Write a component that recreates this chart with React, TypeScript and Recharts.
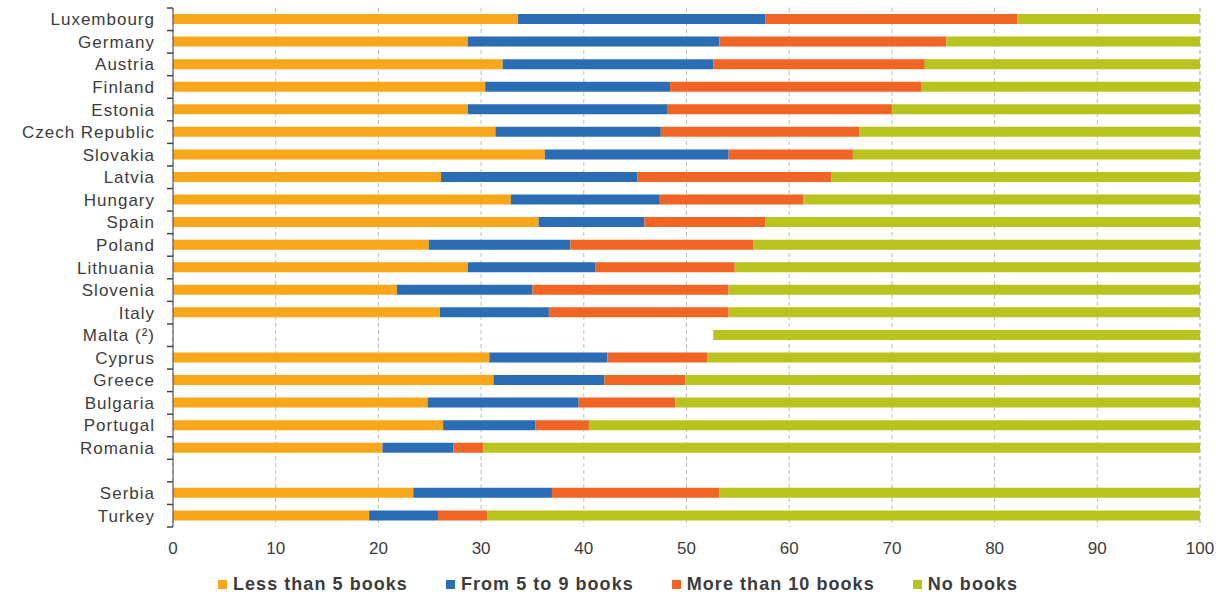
import { BarChart, Bar, XAxis, YAxis, CartesianGrid, Legend } from "recharts";

const countries = [
  "Luxembourg", "Germany", "Austria", "Finland", "Estonia", "Czech Republic",
  "Slovakia", "Latvia", "Hungary", "Spain", "Poland", "Lithuania", "Slovenia",
  "Italy", "Malta (²)", "Cyprus", "Greece", "Bulgaria", "Portugal", "Romania",
  " ", "Serbia", "Turkey",
];

const lessThan5 = [33.6, 28.7, 32.1, 30.4, 28.7, 31.4, 36.2, 26.1, 32.9, 35.6, 24.9, 28.7, 21.8, 26.0, null, 30.8, 31.2, 24.8, 26.3, 20.4, null, 23.4, 19.1];
const from5to9 = [24.1, 24.5, 20.5, 18.0, 19.4, 16.1, 17.9, 19.1, 14.5, 10.3, 13.8, 12.4, 13.2, 10.6, null, 11.5, 10.8, 14.7, 9.0, 6.9, null, 13.5, 6.7];
const moreThan10 = [24.5, 22.1, 20.6, 24.5, 21.9, 19.3, 12.1, 18.9, 14.0, 11.8, 17.8, 13.6, 19.1, 17.5, null, 9.7, 7.9, 9.4, 5.2, 2.9, null, 16.3, 4.8];
// Malta only reports "no books": the missing part is left as an empty gap
const missing = [null, null, null, null, null, null, null, null, null, null, null, null, null, null, 52.6, null, null, null, null, null, null, null, null];
const noBooks = [17.8, 24.7, 26.8, 27.1, 30.0, 33.2, 33.8, 35.9, 38.6, 42.3, 43.5, 45.3, 45.9, 45.9, 47.4, 48.0, 50.1, 51.1, 59.5, 69.8, null, 46.8, 69.4];

const xTicks = [0, 10, 20, 30, 40, 50, 60, 70, 80, 90, 100];

const series = [
  { key: "less5", name: "Less than 5 books", color: "#FAA61A" },
  { key: "from5to9", name: "From 5 to 9 books", color: "#2A6DB4" },
  { key: "more10", name: "More than 10 books", color: "#F06424" },
  { key: "none", name: "No books", color: "#B9C31E" },
];

const data = countries.map((country, i) => ({
  country,
  less5: lessThan5[i],
  from5to9: from5to9[i],
  more10: moreThan10[i],
  gap: missing[i],
  none: noBooks[i],
}));

const W = 1225;
const H = 596;
const MARGIN = { top: 8, right: 25, bottom: 0, left: 0 };
const X_AXIS_H = 35;
const LEGEND_H = 34;
const Y_AXIS_W = 173;
const BAND = (H - MARGIN.top - MARGIN.bottom - X_AXIS_H - LEGEND_H) / countries.length;
const TEXT = "#3c3c3c";
const FONT = "Liberation Sans, Arial, sans-serif";

// label + tick mark on the band boundary (Excel style)
const CountryTick = (props: any) => {
  const { x, y, payload, index } = props;
  const axisX = Number(x) + 18;
  const top = Number(y) - BAND / 2;
  const bottom = Number(y) + BAND / 2;
  return (
    <g>
      <text x={x} y={y} dy={6} textAnchor="end" fill={TEXT} fontSize={17} letterSpacing={1} fontFamily={FONT}>
        {payload.value}
      </text>
      <path d={`M${axisX - 6},${top}H${axisX}`} stroke="#444" strokeWidth={1.5} fill="none" />
      {index === countries.length - 1 && (
        <path d={`M${axisX - 6},${bottom}H${axisX}`} stroke="#444" strokeWidth={1.5} fill="none" />
      )}
    </g>
  );
};

const renderLegend = () => (
  <div
    style={{
      display: "flex",
      gap: 38,
      paddingLeft: 218,
      paddingTop: 12,
      fontFamily: FONT,
      fontWeight: "bold",
      fontSize: 18,
      letterSpacing: 1.05,
      color: TEXT,
    }}
  >
    {series.map((s) => (
      <div key={s.key} style={{ display: "flex", alignItems: "center" }}>
        <span style={{ width: 9, height: 9, background: s.color, marginRight: 6, display: "inline-block" }} />
        {s.name}
      </div>
    ))}
  </div>
);

export default function App() {
  return (
    <div style={{ position: "absolute", left: 0, top: 0, background: "#fff" }}>
      <BarChart width={W} height={H} data={data} layout="vertical" margin={MARGIN} barSize={10}>
        <CartesianGrid horizontal={false} stroke="#bdbdbd" strokeDasharray="4 3" />
        <XAxis
          type="number"
          domain={[0, 100]}
          ticks={xTicks}
          height={X_AXIS_H}
          axisLine={false}
          tickLine={false}
          tickMargin={9}
          tick={{ fill: TEXT, fontSize: 17, fontFamily: FONT }}
          interval={0}
        />
        <YAxis
          type="category"
          dataKey="country"
          width={Y_AXIS_W}
          interval={0}
          tickLine={false}
          tickSize={6}
          tickMargin={12}
          axisLine={{ stroke: "#444" }}
          tick={CountryTick}
        />
        <Legend verticalAlign="bottom" height={LEGEND_H} content={renderLegend} />
        <Bar dataKey="less5" name="Less than 5 books" stackId="a" fill="#FAA61A" isAnimationActive={false} />
        <Bar dataKey="from5to9" name="From 5 to 9 books" stackId="a" fill="#2A6DB4" isAnimationActive={false} />
        <Bar dataKey="more10" name="More than 10 books" stackId="a" fill="#F06424" isAnimationActive={false} />
        <Bar dataKey="gap" stackId="a" fill="transparent" legendType="none" isAnimationActive={false} />
        <Bar dataKey="none" name="No books" stackId="a" fill="#B9C31E" isAnimationActive={false} />
      </BarChart>
    </div>
  );
}
